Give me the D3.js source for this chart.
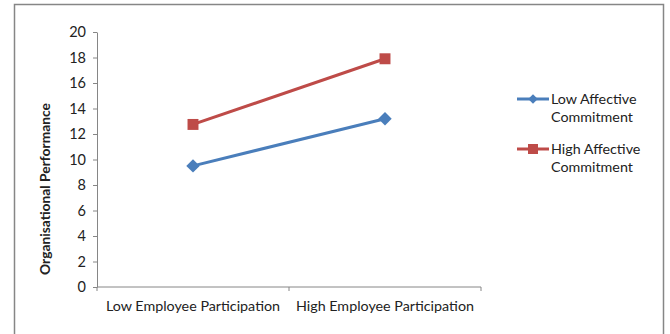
<!DOCTYPE html>
<meta charset="utf-8">
<script src="https://d3js.org/d3.v7.min.js"></script>
<style>
  body { margin: 0; background: #fff; }
  text { font-family: Lato, "Open Sans", sans-serif; fill: #222; }
</style>
<div id="viz"></div>
<script>

var categories = ["Low Employee Participation", "High Employee Participation"];
var seriesNames = ["Low Affective Commitment", "High Affective Commitment"];
var lowAffective = [9.5, 13.2];
var highAffective = [12.75, 17.9];
var yTicks = [0, 2, 4, 6, 8, 10, 12, 14, 16, 18, 20];

var colors = ["#4a7ebb", "#be4b48"];

var svg = d3.select("#viz").append("svg")
    .attr("width", 670)
    .attr("height", 334);

// outer chart frame
svg.append("rect")
    .attr("x", 14.5).attr("y", 4.5)
    .attr("width", 649).attr("height", 340)
    .attr("fill", "#fff")
    .attr("stroke", "#868686")
    .attr("stroke-width", 1.5);

var plot = {left: 97, right: 481, top: 32, bottom: 287};

var x = d3.scaleBand()
    .domain(categories)
    .range([plot.left, plot.right]);

var y = d3.scaleLinear()
    .domain([0, 20])
    .range([plot.bottom, plot.top]);

// y axis
var yAxis = svg.append("g")
    .attr("transform", "translate(" + plot.left + ",0)")
    .call(d3.axisLeft(y).tickValues(yTicks).tickSize(4).tickSizeOuter(0).tickPadding(7));
yAxis.select(".domain").attr("stroke", "#868686");
yAxis.selectAll(".tick line").attr("stroke", "#868686");
yAxis.selectAll(".tick text").style("font-size", "14.5px").attr("fill", "#222");

// x axis with ticks at category boundaries
var xAxis = svg.append("g")
    .attr("transform", "translate(0," + plot.bottom + ")");
xAxis.append("line")
    .attr("x1", plot.left).attr("x2", plot.right)
    .attr("stroke", "#868686");
var bounds = [plot.left].concat(categories.map(function(c) { return x(c) + x.bandwidth(); }));
xAxis.selectAll(".xtick")
    .data(bounds)
    .enter().append("line")
    .attr("x1", function(d) { return d; })
    .attr("x2", function(d) { return d; })
    .attr("y1", 0).attr("y2", 4)
    .attr("stroke", "#868686");
xAxis.selectAll(".xlabel")
    .data(categories)
    .enter().append("text")
    .attr("x", function(d) { return x(d) + x.bandwidth() / 2; })
    .attr("y", 24)
    .attr("text-anchor", "middle")
    .style("font-size", "14.3px")
    .text(function(d) { return d; });

// y axis title
svg.append("text")
    .attr("transform", "translate(50,189) rotate(-90)")
    .attr("text-anchor", "middle")
    .style("font-size", "13.8px")
    .style("font-weight", "bold")
    .text("Organisational Performance");

var line = d3.line()
    .x(function(d, i) { return x(categories[i]) + x.bandwidth() / 2; })
    .y(function(d) { return y(d); });

var series = [lowAffective, highAffective];
var square = d3.symbol().type(d3.symbolSquare);

function markerTransform(s) {
  return s === 0 ? " rotate(45)" : "";
}

series.forEach(function(vals, s) {
  svg.append("path")
      .datum(vals)
      .attr("d", line)
      .attr("fill", "none")
      .attr("stroke", colors[s])
      .attr("stroke-width", 3);
  svg.selectAll(".m" + s)
      .data(vals)
      .enter().append("path")
      .attr("transform", function(d, i) {
        return "translate(" + (x(categories[i]) + x.bandwidth() / 2) + "," + y(d) + ")" + markerTransform(s);
      })
      .attr("d", square.size(s === 0 ? 90 : 120)())
      .attr("fill", colors[s]);
});

// legend
var legendY = [99, 149];
seriesNames.forEach(function(name, s) {
  var g = svg.append("g").attr("transform", "translate(517," + legendY[s] + ")");
  g.append("line")
      .attr("x1", 0).attr("x2", 32)
      .attr("stroke", colors[s]).attr("stroke-width", 3);
  g.append("path")
      .attr("transform", "translate(16,0)" + markerTransform(s))
      .attr("d", square.size(s === 0 ? 45 : 100)())
      .attr("fill", colors[s]);
  var words = name.split(" ");
  g.append("text")
      .attr("x", 34).attr("y", 5)
      .style("font-size", "14.3px")
      .text(words[0] + " " + words[1]);
  g.append("text")
      .attr("x", 34).attr("y", 23)
      .style("font-size", "14.3px")
      .text(words[2]);
});

</script>
